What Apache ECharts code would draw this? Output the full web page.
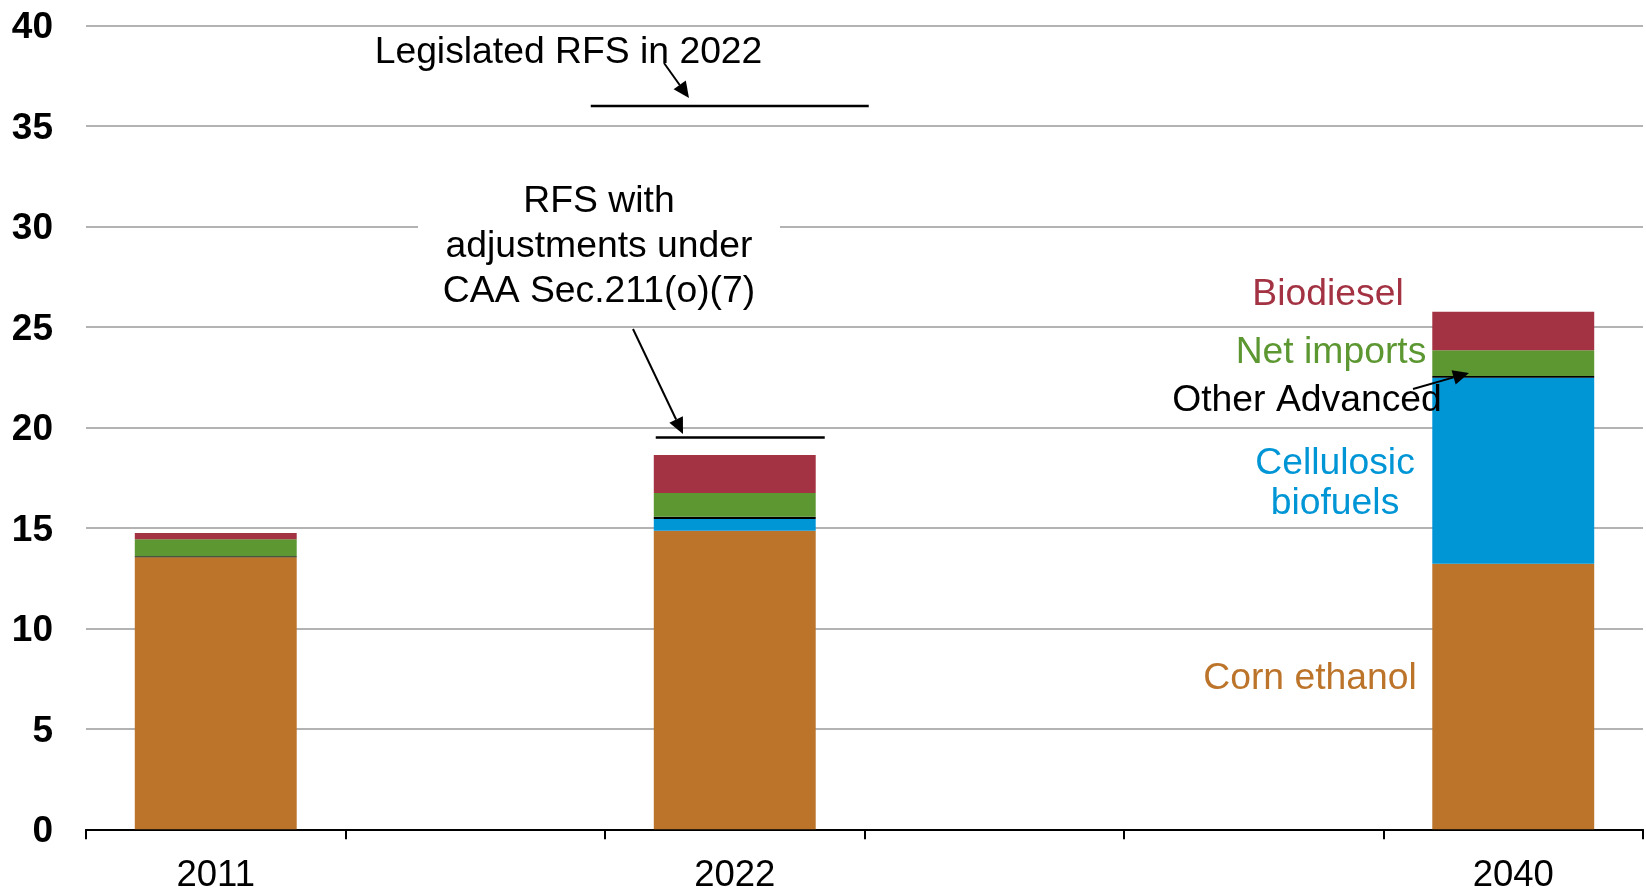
<!DOCTYPE html>
<html><head><meta charset="utf-8">
<script src="https://cdn.jsdelivr.net/npm/echarts@6/dist/echarts.min.js"></script>
<style>html,body{margin:0;padding:0;background:#fff}#c{width:1646px;height:891px}</style>
</head><body><div id="c"></div>
<script>
// ---- data ----
const categories = ['2011', '', '2022', '', '', '2040'];
const cornEthanol   = [13.54, null, 14.86, null, null, 13.22];
const cellulosic    = [0,     null, 0.59,  null, null, 9.26];
const otherAdvanced = [0.05,  null, 0.11,  null, null, 0.08];
const netImports    = [0.85,  null, 1.18,  null, null, 1.28];
const biodiesel     = [0.31,  null, 1.89,  null, null, 1.92];
const yTickLabels = ['0', '5', '10', '15', '20', '25', '30', '35', '40'];
const rfsLegislated2022 = 36;
const rfsAdjusted2022 = 19.5;

const FONT = '"Liberation Sans", Arial, Helvetica, sans-serif';
const chart = echarts.init(document.getElementById('c'), null, {renderer: 'canvas'});

function barSeries(name, data, color) {
  return {
    name, type: 'bar', stack: 'total', data, barWidth: '62.4%',
    itemStyle: {color}, emphasis: {disabled: true}
  };
}

chart.setOption({
  animation: false,
  backgroundColor: '#fff',
  grid: {left: 86, right: 3, top: 25.7, bottom: 61.7, containLabel: false, outerBoundsMode: 'none'},
  xAxis: {
    type: 'category', data: categories,
    axisLine: {lineStyle: {color: '#000', width: 2}},
    axisTick: {show: true, length: 10, lineStyle: {color: '#000', width: 2}},
    axisLabel: {interval: 0, fontSize: 36.5, color: '#000', fontFamily: FONT, margin: 28}
  },
  yAxis: {
    type: 'value', min: 0, max: 40, interval: 5,
    axisLine: {show: false}, axisTick: {show: false},
    splitLine: {lineStyle: {color: '#B3B3B3', width: 2}},
    axisLabel: {fontSize: 37, fontWeight: 'bold', color: '#000', fontFamily: FONT, margin: 33,
      verticalAlign: 'top', lineHeight: 5,
      formatter: (v) => yTickLabels[Math.round(v / 5)]}
  },
  series: [
    barSeries('Corn ethanol', cornEthanol, '#BC742A'),
    barSeries('Cellulosic biofuels', cellulosic, '#0096D6'),
    barSeries('Other Advanced', otherAdvanced, '#000000'),
    barSeries('Net imports', netImports, '#5C9732'),
    barSeries('Biodiesel', biodiesel, '#A33343')
  ]
});

// ---- annotations ----
const pL = chart.convertToPixel({xAxisIndex: 0, yAxisIndex: 0}, [2, rfsLegislated2022]);
const pA = chart.convertToPixel({xAxisIndex: 0, yAxisIndex: 0}, [2, rfsAdjusted2022]);

function hline(x1, x2, y) {
  return {type: 'line', z: 100, shape: {x1, y1: y, x2, y2: y}, style: {stroke: '#000', lineWidth: 2.5}};
}
function arrow(x1, y1, x2, y2) {
  const dx = x2 - x1, dy = y2 - y1, L = Math.hypot(dx, dy);
  const ux = dx / L, uy = dy / L, hl = 16, hw = 7.5;
  const bx = x2 - ux * hl, by = y2 - uy * hl;
  return [
    {type: 'line', z: 100, shape: {x1, y1, x2: bx, y2: by}, style: {stroke: '#000', lineWidth: 2}},
    {type: 'polygon', z: 100, shape: {points: [[x2, y2], [bx - uy * hw, by + ux * hw], [bx + uy * hw, by - ux * hw]]},
      style: {fill: '#000'}}
  ];
}
function label(text, x, y, color, extra) {
  return {
    type: 'text', z: 110,
    style: Object.assign({text, x, y, fill: color, fontSize: 37.3, fontFamily: FONT,
      align: 'center', verticalAlign: 'middle', textAlign: 'center', textVerticalAlign: 'middle'}, extra || {})
  };
}

const elements = [
  {type: 'rect', z: 90, shape: {x: 418, y: 172, width: 362, height: 140}, style: {fill: '#fff'}},
  hline(pL[0] - 144, pL[0] + 134, pL[1]),
  hline(pA[0] - 79, pA[0] + 90, pA[1]),
  ...arrow(664, 63, 689, 98),
  ...arrow(633, 329, 683, 434),
  ...arrow(1413, 389, 1469, 373),
  label('Legislated RFS in 2022', 568.5, 53, '#000'),
  label('RFS with\nadjustments under\nCAA Sec.211(o)(7)', 599, 246.5, '#000', {lineHeight: 45}),
  label('Biodiesel', 1328, 295, '#A33343'),
  label('Net imports', 1331, 352.5, '#5C9732'),
  label('Other Advanced', 1307, 401, '#000'),
  label('Cellulosic\nbiofuels', 1335, 484, '#0096D6', {lineHeight: 40}),
  label('Corn ethanol', 1310, 679, '#BC742A')
];
chart.setOption({graphic: {elements}});
</script></body></html>
